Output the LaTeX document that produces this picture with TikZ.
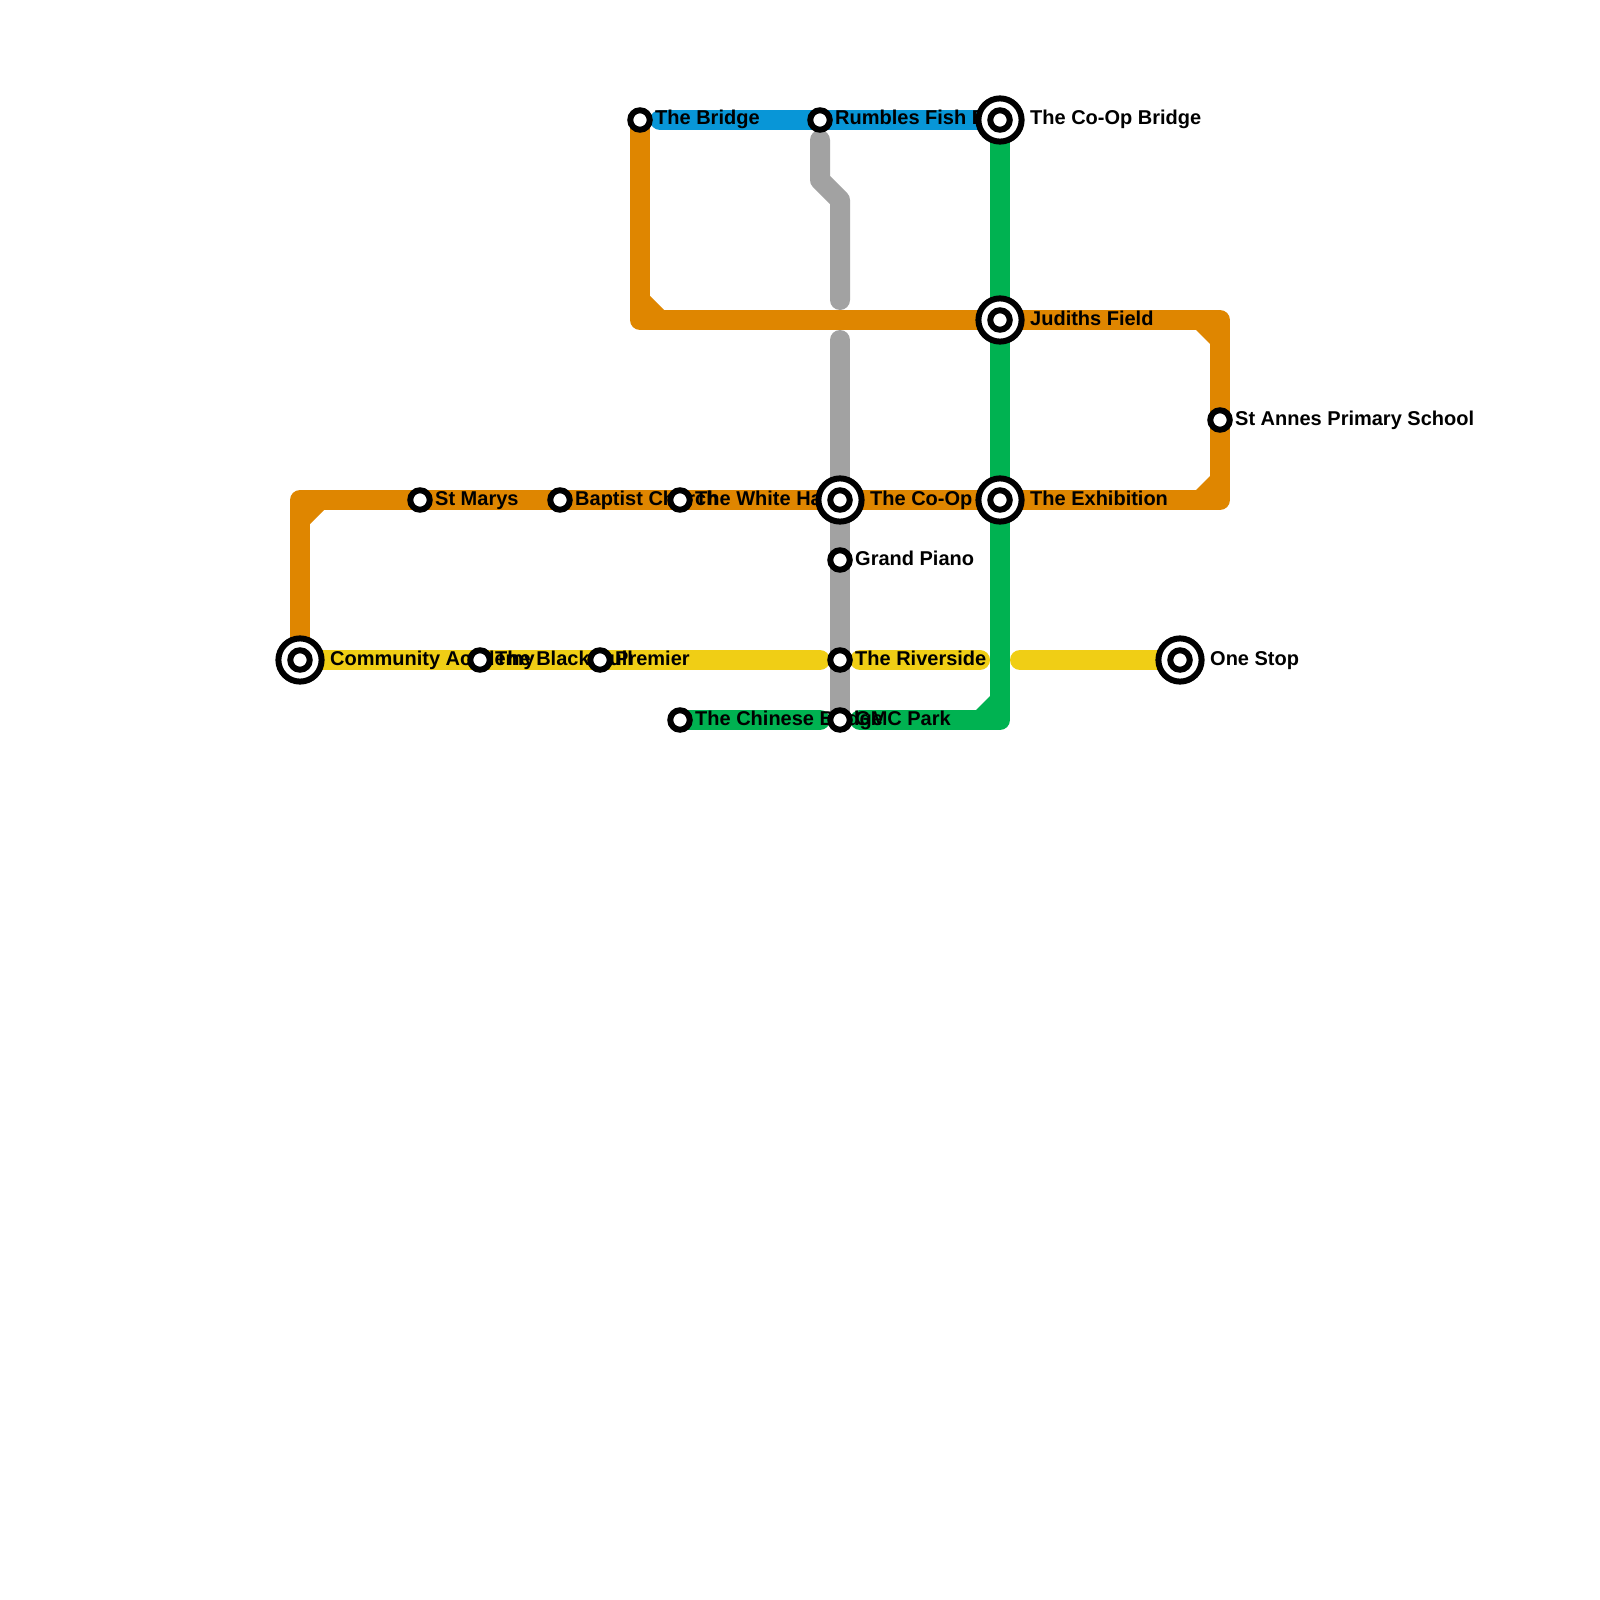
\documentclass[tikz,border=0pt]{standalone}
\usepackage{fontspec}
\setmainfont{Liberation Sans}
\definecolor{lblue}{HTML}{0896D7}
\definecolor{lorange}{HTML}{DF8600}
\definecolor{lgray}{HTML}{A2A2A2}
\definecolor{lgreen}{HTML}{00B251}
\definecolor{lyellow}{HTML}{F0CE15}
\tikzset{
  x=0.0375cm,y=-0.0375cm,
  metro/.style={line width=0.75cm,line cap=round,line join=round},
  smallst/.style={circle,draw=black,fill=white,line width=0.225cm,outer sep=0pt,minimum size=0.73cm,inner sep=0pt},
  bigst/.style={circle,draw=black,fill=white,line width=0.225cm,outer sep=0pt,minimum size=1.62cm,inner sep=0pt},
  innerst/.style={circle,draw=black,fill=white,line width=0.225cm,outer sep=0pt,minimum size=0.73cm,inner sep=0pt},
  lab/.style={anchor=base west,inner sep=0pt,font=\fontsize{21.34pt}{21.34pt}\selectfont\bfseries,text=black}
}
\begin{document}
\begin{tikzpicture}
\useasboundingbox (0,0) rectangle (1600,1600);
\fill[white] (0,0) rectangle (1600,1600);
% anchors of the lines
\coordinate (lbA) at (660,120); \coordinate (lbB) at (1000,120);
\coordinate (gA) at (840,340); \coordinate (gB) at (840,720);
% lines
\draw[metro,lblue] (lbA) -- (lbB);
\draw[metro,lorange] (640,120) -- (640,320) -- (1220,320) -- (1220,500) -- (300,500) -- (300,660);
\fill[lorange] (650,296) -- (664,310) -- (640,320) -- cycle;
\fill[lorange] (1196,330) -- (1210,344) -- (1220,320) -- cycle;
\fill[lorange] (1196,490) -- (1210,476) -- (1220,500) -- cycle;
\fill[lorange] (324,510) -- (310,524) -- (300,500) -- cycle;
\draw[metro,lyellow] (300,660) -- (820,660);
\draw[metro,lyellow] (860,660) -- (980,660);
\draw[metro,lyellow] (1020,660) -- (1180,660);
\draw[metro,lgray] (820,140) -- (820,180) -- (840,200) -- (840,300);
\draw[metro,lgray] (gA) -- (gB);
\draw[metro,lgreen] (680,720) -- (820,720);
\draw[metro,lgreen] (1000,120) -- (1000,720) -- (860,720);
\fill[lgreen] (990,696) -- (976,710) -- (1000,720) -- cycle;
% labels
\node[lab] (t1) at (655,125) {The Bridge};
\node[lab] (t2) at (835,125) {Rumbles Fish Bar};
\node[lab] (t3) at (1030,125) {The Co-Op Bridge};
\node[lab] (t4) at (1030,325) {Judiths Field};
\node[lab] (t5) at (1235,425) {St Annes Primary School};
\node[lab] (t6) at (1030,505) {The Exhibition};
\node[lab] (t7) at (870,505) {The Co-Op};
\node[lab] (t8) at (695,505) {The White Hall};
\node[lab] (t9) at (575,505) {Baptist Church};
\node[lab] (t10) at (435,505) {St Marys};
\node[lab] (t11) at (855,565) {Grand Piano};
\node[lab] (t12) at (330,665) {Community Academy};
\node[lab] (t13) at (495,665) {The Black Bull};
\node[lab] (t14) at (615,665) {Premier};
\node[lab] (t15) at (855,665) {The Riverside};
\node[lab] (t16) at (1210,665) {One Stop};
\node[lab] (t17) at (695,725) {The Chinese Bridge};
\node[lab] (t18) at (855,725) {GMC Park};
% stations
\foreach \n/\x/\y in {a/640/120,b/820/120,c/1220/420,d/420/500,e/560/500,f/680/500,g/840/560,h/480/660,i/600/660,j/840/660,k/680/720,l/840/720}
  \node[smallst] (s\n) at (\x,\y) {};
\foreach \n/\x/\y in {m/1000/120,o/1000/320,p/840/500,q/1000/500,r/300/660,u/1180/660}{
  \node[bigst] (b\n) at (\x,\y) {};
  \node[innerst] (c\n) at (\x,\y) {};
}
\end{tikzpicture}
\end{document}
